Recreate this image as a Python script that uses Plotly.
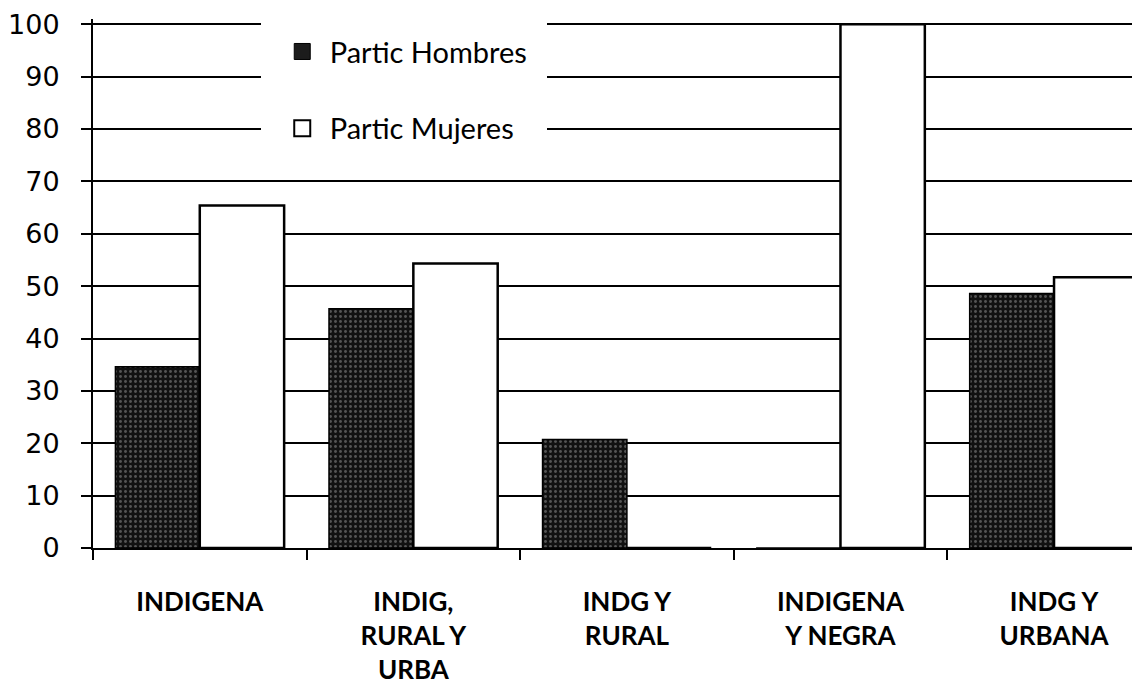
import plotly.graph_objects as go

categories = ["INDIGENA", "INDIG,<br>RURAL Y<br>URBA", "INDG Y<br>RURAL", "INDIGENA<br>Y NEGRA", "INDG Y<br>URBANA"]
hombres = [34.6, 45.7, 20.7, 0, 48.6]
mujeres = [65.4, 54.3, 0, 100, 51.7]
yticks = [0, 10, 20, 30, 40, 50, 60, 70, 80, 90, 100]

FONT = "Lato"

fig = go.Figure()
fig.add_trace(go.Bar(
    x=categories, y=hombres, name="Partic Hombres", legendgroup="h", showlegend=False,
    marker=dict(color="#111111", line=dict(color="black", width=1.5),
                pattern=dict(shape=".", fgcolor="#9a9a9a", bgcolor="#111111", size=5, solidity=0.25)),
))
fig.add_trace(go.Bar(
    x=categories, y=mujeres, name="Partic Mujeres", legendgroup="m", showlegend=False,
    marker=dict(color="white", line=dict(color="black", width=2.5)),
))
# legend entries (larger square icons than the bar legend glyph)
fig.add_trace(go.Scatter(
    x=[None], y=[None], mode="markers", name="Partic Hombres", legendgroup="h",
    marker=dict(symbol="square", size=30, color="#1c1c1c", line=dict(color="black", width=1)),
))
fig.add_trace(go.Scatter(
    x=[None], y=[None], mode="markers", name="Partic Mujeres", legendgroup="m",
    marker=dict(symbol="square", size=30, color="white", line=dict(color="black", width=2)),
))

fig.update_layout(
    width=1140, height=688,
    margin=dict(l=85, r=0, t=11, b=148, autoexpand=False),
    paper_bgcolor="white", plot_bgcolor="white",
    barmode="group", bargap=0.21, bargroupgap=0,
    font=dict(family=FONT, color="black"),
    showlegend=True,
    legend=dict(x=0.159, y=1.013, xanchor="left", yanchor="top",
                bgcolor="white", bordercolor="white", borderwidth=14,
                font=dict(family=FONT, size=29, color="black"),
                tracegroupgap=36, itemwidth=45),
)
fig.update_xaxes(
    type="category", range=[-0.5, 4.44],
    showgrid=False, showline=True, linecolor="black", linewidth=2,
    ticks="outside", tickson="boundaries", ticklen=10, tickwidth=2, tickcolor="black",
    tickfont=dict(family=FONT, size=26, color="black", weight="bold"),
    ticklabelstandoff=30,
)
fig.update_yaxes(
    range=[0, 101], tickvals=yticks,
    showgrid=True, gridcolor="black", gridwidth=2,
    showline=True, linecolor="black", linewidth=2,
    ticks="outside", ticklen=10, tickwidth=2, tickcolor="black",
    tickfont=dict(family="DejaVu Sans", size=27, color="black"),
    zeroline=False, ticklabelstandoff=16, automargin=False,
    ticklabeloverflow="allow",
)
fig.write_html("out.html")
